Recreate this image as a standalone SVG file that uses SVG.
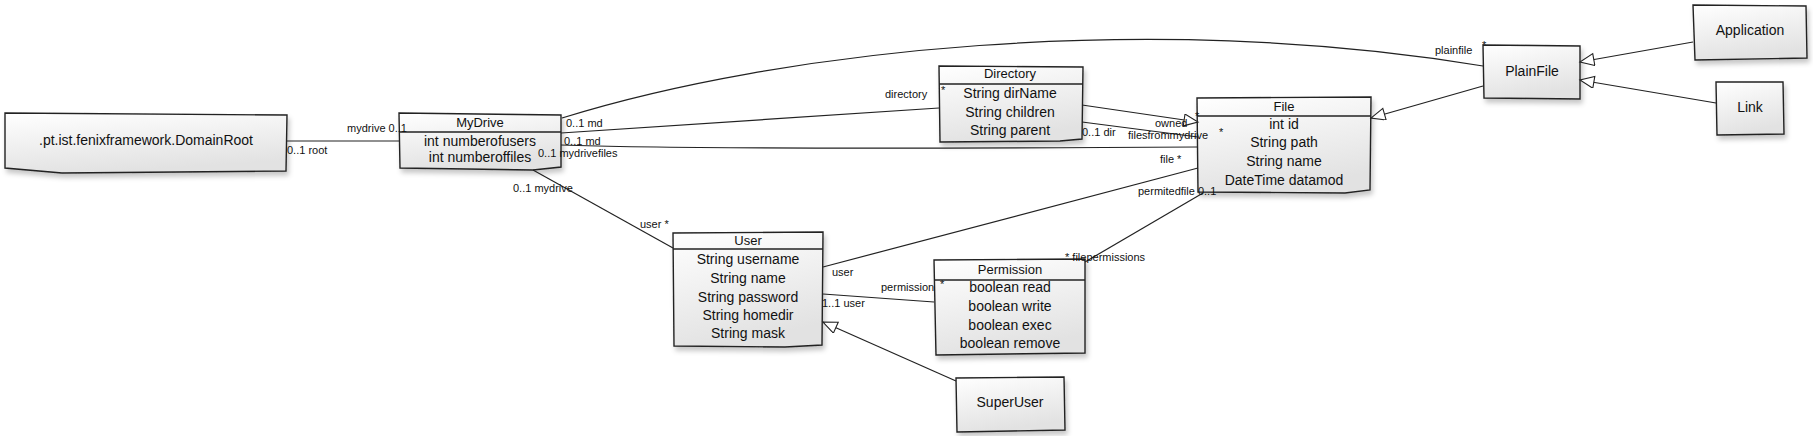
<svg xmlns="http://www.w3.org/2000/svg" width="1813" height="436" viewBox="0 0 1813 436">
<defs>
<linearGradient id="g" x1="0" y1="0" x2="0.3" y2="1">
<stop offset="0" stop-color="#ffffff"/>
<stop offset="1" stop-color="#e2e2e2"/>
</linearGradient>
<filter id="sh" x="-10%" y="-10%" width="130%" height="140%">
<feDropShadow dx="2" dy="4" stdDeviation="2.5" flood-color="#000" flood-opacity="0.22"/>
</filter>
<marker id="tri" markerUnits="userSpaceOnUse" markerWidth="18" markerHeight="14" refX="15" refY="6" orient="auto">
<path d="M1,0 L15,6 L1,12 Z" fill="#fff" stroke="#222" stroke-width="1.1"/>
</marker>
<style>
.box{fill:url(#g);stroke:#222;stroke-width:1.4;filter:url(#sh)}
.div{stroke:#222;stroke-width:1.4}
.t{font-family:"Liberation Sans",Arial,sans-serif;font-size:14px;fill:#111;text-anchor:middle}
.ti{font-family:"Liberation Sans",Arial,sans-serif;font-size:13px;fill:#111;text-anchor:middle}
.l{font-family:"Liberation Sans",Arial,sans-serif;font-size:11px;fill:#111}
.c{fill:none;stroke:#222;stroke-width:1.2}
</style>
</defs>

<g id="DomainRoot">
<polygon class="box" points="5,113 287,115 286,171 62,173 5,168"/>
<text class="t" x="146" y="145">.pt.ist.fenixframework.DomainRoot</text>
</g>

<g id="MyDrive">
<polygon class="box" points="399,113 561,115 561,167 533,170 400,168"/>
<line class="div" x1="399" y1="132" x2="561" y2="132"/>
<text class="ti" x="480" y="127">MyDrive</text>
<text class="t" x="480" y="146">int numberofusers</text>
<text class="t" x="480" y="162">int numberoffiles</text>
</g>

<g id="Directory">
<polygon class="box" points="939,66 1083,67 1082,139 1060,141 940,142"/>
<line class="div" x1="939" y1="84" x2="1083" y2="84"/>
<text class="ti" x="1010" y="78">Directory</text>
<text class="t" x="1010" y="98">String dirName</text>
<text class="t" x="1010" y="117">String children</text>
<text class="t" x="1010" y="135">String parent</text>
</g>

<g id="File">
<polygon class="box" points="1197,98 1371,97 1370,190 1345,193 1198,192"/>
<line class="div" x1="1197" y1="116" x2="1371" y2="116"/>
<text class="ti" x="1284" y="111">File</text>
<text class="t" x="1284" y="129">int id</text>
<text class="t" x="1284" y="147">String path</text>
<text class="t" x="1284" y="166">String name</text>
<text class="t" x="1284" y="185">DateTime datamod</text>
</g>

<g id="PlainFile">
<polygon class="box" points="1483,45 1580,46 1580,99 1484,98"/>
<text class="t" x="1532" y="76">PlainFile</text>
</g>

<g id="Application">
<polygon class="box" points="1693,5 1806,6 1807,58 1695,60"/>
<text class="t" x="1750" y="35">Application</text>
</g>

<g id="Link">
<polygon class="box" points="1716,82 1783,82 1784,134 1717,135"/>
<text class="t" x="1750" y="112">Link</text>
</g>

<g id="User">
<polygon class="box" points="673,233 823,232 822,345 785,347 674,346"/>
<line class="div" x1="673" y1="249" x2="823" y2="249"/>
<text class="ti" x="748" y="245">User</text>
<text class="t" x="748" y="264">String username</text>
<text class="t" x="748" y="283">String name</text>
<text class="t" x="748" y="302">String password</text>
<text class="t" x="748" y="320">String homedir</text>
<text class="t" x="748" y="338">String mask</text>
</g>

<g id="Permission">
<polygon class="box" points="934,260 1085,259 1085,353 936,355"/>
<line class="div" x1="934" y1="280" x2="1085" y2="280"/>
<text class="ti" x="1010" y="274">Permission</text>
<text class="t" x="1010" y="292">boolean read</text>
<text class="t" x="1010" y="311">boolean write</text>
<text class="t" x="1010" y="330">boolean exec</text>
<text class="t" x="1010" y="348">boolean remove</text>
</g>

<g id="SuperUser">
<polygon class="box" points="956,378 1064,377 1065,430 957,432"/>
<text class="t" x="1010" y="407">SuperUser</text>
</g>

<g id="connectors">
<path class="c" d="M287,141 L399,141"/>
<path class="c" d="M562,118 C780,50 1150,10 1483,66"/>
<path class="c" d="M561,133 L939,108"/>
<path class="c" d="M561,145 Q700,150 1198,147"/>
<path class="c" d="M533,170 L673,248"/>
<path class="c" d="M1082,105 L1198,122" marker-end="url(#tri)"/>
<path class="c" d="M1082,122 L1198,137"/>
<path class="c" d="M823,267 L1198,168"/>
<path class="c" d="M823,294 L934,302"/>
<path class="c" d="M1085,262 L1203,193"/>
<path class="c" d="M956,381 L823,322" marker-end="url(#tri)"/>
<path class="c" d="M1693,42 L1580,62" marker-end="url(#tri)"/>
<path class="c" d="M1716,103 L1580,80" marker-end="url(#tri)"/>
<path class="c" d="M1483,86 L1371,118" marker-end="url(#tri)"/>

<text class="l" x="287" y="154">0..1 root</text>
<text class="l" x="347" y="132">mydrive 0..1</text>
<text class="l" x="566" y="127">0..1 md</text>
<text class="l" x="1435" y="54">plainfile</text>
<text class="l" x="1482" y="49">*</text>
<text class="l" x="564" y="145">0..1 md</text>
<text class="l" x="885" y="98">directory</text>
<text class="l" x="941" y="94">*</text>
<text class="l" x="538" y="157">0..1 mydrivefiles</text>
<text class="l" x="1160" y="163">file *</text>
<text class="l" x="513" y="192">0..1 mydrive</text>
<text class="l" x="640" y="228">user *</text>
<text class="l" x="1155" y="127">owned</text>
<text class="l" x="1195" y="120">*</text>
<text class="l" x="1082" y="136">0..1 dir</text>
<text class="l" x="1128" y="139">filesfrommydrive</text>
<text class="l" x="1219" y="136">*</text>
<text class="l" x="832" y="276">user</text>
<text class="l" x="881" y="291">permission</text>
<text class="l" x="940" y="288">*</text>
<text class="l" x="822" y="307">1..1 user</text>
<text class="l" x="1065" y="261">* filepermissions</text>
<text class="l" x="1138" y="195">permitedfile 0..1</text>
</g>
</svg>
